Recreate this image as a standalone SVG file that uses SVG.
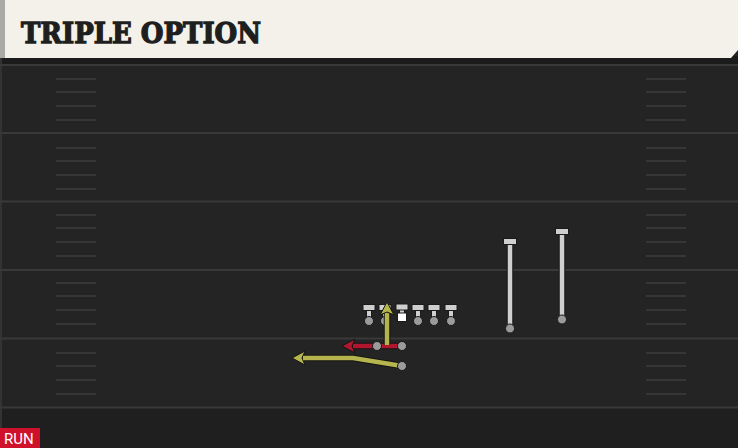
<svg xmlns="http://www.w3.org/2000/svg" width="738" height="448" viewBox="0 0 738 448">
<defs>
<style>
.yard{stroke:#393939;stroke-width:2}
.hash{stroke:#363636;stroke-width:2}
.pl{fill:#cfcfcf;stroke:#1a1a1a;stroke-width:1}
.stem{stroke:#cfcfcf;stroke-width:4.5}
.stemo{stroke:#161616;stroke-width:6.5}
.dot{fill:#9b9b9b;stroke:#1a1a1a;stroke-width:1}
.ylo{stroke:#141414;stroke-width:6.5;fill:none;stroke-linejoin:round}
.yl{stroke:#b6b44c;stroke-width:4.5;fill:none;stroke-linejoin:round}
.rd{stroke:#b0172f;stroke-width:4.5;fill:none}
.rdo{stroke:#141414;stroke-width:6.5;fill:none}
</style>
<g id="hashset">
<line class="hash" x1="0" y1="14" x2="40" y2="14"/>
<line class="hash" x1="0" y1="27" x2="40" y2="27"/>
<line class="hash" x1="0" y1="41" x2="40" y2="41"/>
<line class="hash" x1="0" y1="55" x2="40" y2="55"/>
</g>
</defs>
<rect width="738" height="448" fill="#242424"/>
<rect x="0" y="407" width="738" height="41" fill="#1f1f1f"/>
<rect x="0" y="56" width="738" height="8" fill="#1b1b1b"/>
<rect x="0" y="56" width="2" height="392" fill="#333"/>
<g id="field">
<line class="yard" x1="0" y1="65" x2="738" y2="65"/>
<line class="yard" x1="0" y1="133" x2="738" y2="133"/>
<line class="yard" x1="0" y1="201.5" x2="738" y2="201.5"/>
<line class="yard" x1="0" y1="270" x2="738" y2="270"/>
<line class="yard" x1="0" y1="338.5" x2="738" y2="338.5"/>
<line class="yard" x1="0" y1="407.5" x2="738" y2="407.5"/>
<use href="#hashset" x="56" y="65"/>
<use href="#hashset" x="56" y="134"/>
<use href="#hashset" x="56" y="201"/>
<use href="#hashset" x="56" y="269"/>
<use href="#hashset" x="56" y="339"/>
<use href="#hashset" x="646" y="65"/>
<use href="#hashset" x="646" y="134"/>
<use href="#hashset" x="646" y="201"/>
<use href="#hashset" x="646" y="269"/>
<use href="#hashset" x="646" y="339"/>
</g>
<g id="header">
<polygon points="0,0 738,0 738,50 731,58 0,58" fill="#f4f1ea"/>
<rect x="0" y="0" width="5" height="58" fill="#a9a9a6"/>
<text x="21" y="42.5" font-family="'DejaVu Serif', serif" font-weight="bold" font-size="28" fill="#1e1e1e" stroke="#1e1e1e" stroke-width="1.3" stroke-linejoin="miter" textLength="240" lengthAdjust="spacingAndGlyphs">TRIPLE OPTION</text>
</g>
<g id="connectors">
<line class="stemo" x1="510" y1="242" x2="510" y2="329"/>
<line class="stem" x1="510" y1="242" x2="510" y2="329"/>
<line class="stemo" x1="562" y1="232" x2="562" y2="320"/>
<line class="stem" x1="562" y1="232" x2="562" y2="320"/>
<polyline class="ylo" points="402,366 353,358 303,358"/>
<polygon points="292,358 305,351 302,358 305,365" fill="#b6b44c" stroke="#141414" stroke-width="1"/>
<polyline class="yl" points="402,366 353,358 303,358"/>
<line class="rdo" x1="402" y1="346" x2="353" y2="346"/>
<line class="rd" x1="402" y1="346" x2="353" y2="346"/>
<polygon points="342,346 355,339 352,346 355,353" fill="#b0172f" stroke="#141414" stroke-width="1"/>
</g>
<g id="wr1"><rect class="pl" x="503.5" y="238.5" width="13" height="6"/><circle class="dot" cx="510" cy="328.5" r="4.5"/></g>
<g id="wr2"><rect class="pl" x="555.5" y="228.5" width="13" height="6"/><circle class="dot" cx="562" cy="319.5" r="4.5"/></g>
<g id="lt"><rect class="pl" x="366.5" y="309" width="5" height="10"/><rect class="pl" x="363" y="304.5" width="12" height="6"/><circle class="dot" cx="369" cy="321" r="4.5"/></g>
<g id="lg"><rect class="pl" x="382.5" y="309" width="5" height="10"/><rect class="pl" x="379" y="304.5" width="12" height="6"/><circle class="dot" cx="385" cy="321" r="4.5"/></g>
<g id="c"><rect class="pl" x="399.5" y="308" width="5" height="6"/><rect class="pl" x="396" y="304" width="12" height="6"/><rect x="397.5" y="313" width="9" height="8.5" fill="#ffffff" stroke="#1a1a1a" stroke-width="1"/></g>
<g id="rg"><rect class="pl" x="415.5" y="309" width="5" height="10"/><rect class="pl" x="412" y="304.5" width="12" height="6"/><circle class="dot" cx="418" cy="321" r="4.5"/></g>
<g id="rt"><rect class="pl" x="431.5" y="309" width="5" height="10"/><rect class="pl" x="428" y="304.5" width="12" height="6"/><circle class="dot" cx="434" cy="321" r="4.5"/></g>
<g id="te"><rect class="pl" x="448.5" y="309" width="5" height="10"/><rect class="pl" x="445" y="304.5" width="12" height="6"/><circle class="dot" cx="451" cy="321" r="4.5"/></g>
<g id="dive">
<line class="ylo" x1="387" y1="345" x2="387" y2="313"/>
<line class="yl" x1="387" y1="345" x2="387" y2="313"/>
<polygon points="387,302 394,315 387,312 380,315" fill="#b6b44c" stroke="#141414" stroke-width="1"/>
</g>
<g id="qb"><circle class="dot" cx="377" cy="346" r="4.5" fill="#c98a93"/></g>
<g id="fb"><circle class="dot" cx="402" cy="346" r="4.5"/></g>
<g id="hb"><circle class="dot" cx="402" cy="366" r="4.5"/></g>
<g id="tag">
<rect x="0" y="428" width="40" height="20" fill="#d0112b"/>
<text x="4" y="444" font-family="Roboto, 'Liberation Sans', sans-serif" font-size="15" fill="#ffffff">RUN</text>
</g>
</svg>
